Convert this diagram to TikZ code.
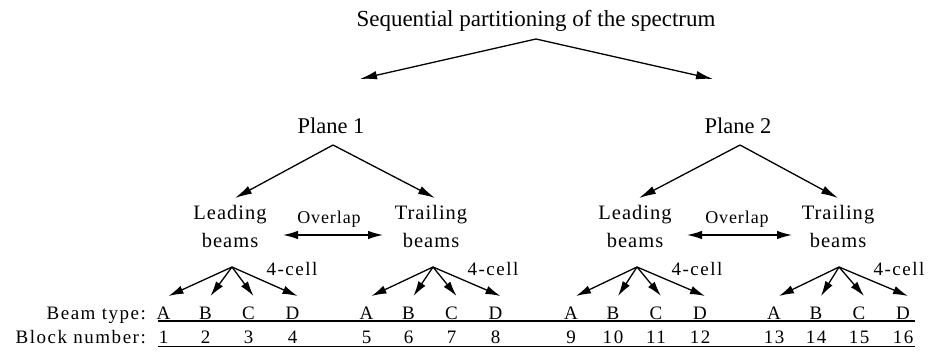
\documentclass[tikz,border=0pt]{standalone}
\usepackage{fontspec}
\setmainfont{Liberation Serif}
\newfontfamily\lsmid[LetterSpace=5]{Liberation Serif}
\newfontfamily\lssmall[LetterSpace=8]{Liberation Serif}
\newfontfamily\lsov[LetterSpace=5]{Liberation Serif}
\usetikzlibrary{arrows.meta}
\begin{document}
\begin{tikzpicture}[x=1pt,y=-1pt,line width=1.3pt,
  >={Latex[length=17pt,width=8.5pt]},
  bigtxt/.style={font=\fontsize{22.5}{27}\selectfont,inner sep=0pt,anchor=base},
  titletxt/.style={font=\fontsize{23}{27}\selectfont,inner sep=0pt,anchor=base},
  midtxt/.style={font=\lsmid\fontsize{20.5}{24}\selectfont,inner sep=0pt,anchor=base},
  ovtxt/.style={font=\lsov\fontsize{18}{21}\selectfont,inner sep=0pt,anchor=base},
  smtxt/.style={font=\lssmall\fontsize{19}{22}\selectfont,inner sep=0pt,anchor=base},
  fanarrow/.style={->,>={Latex[length=15pt,width=8.5pt]}},
  ovarrow/.style={<->,>={Latex[length=15pt,width=8.5pt]}},
  rule/.style={line width=1.4pt}]
\useasboundingbox (0,0) rectangle (931,351);

% title
\node[titletxt] (title) at (536,26) {Sequential partitioning of the spectrum};
\coordinate (t0) at (536,39);
\coordinate (t1) at (360,79);
\coordinate (t2) at (713,79);
\draw[->] (t0) -- (t1);
\draw[->] (t0) -- (t2);

% planes
\node[bigtxt] (plane1) at (331,133) {Plane 1};
\node[bigtxt] (plane2) at (738,133) {Plane 2};
\coordinate (p1) at (333,145);
\coordinate (p1l) at (235,198);
\coordinate (p1r) at (435,198);
\coordinate (p2) at (740,145);
\coordinate (p2l) at (639,198);
\coordinate (p2r) at (838,198);
\draw[->] (p1) -- (p1l);
\draw[->] (p1) -- (p1r);
\draw[->] (p2) -- (p2l);
\draw[->] (p2) -- (p2r);

% leading / trailing
\node[midtxt] (lead1) at (230,219) {Leading};
\node[midtxt] (lead1b) at (230,247) {beams};
\node[midtxt] (trail1) at (431,219) {Trailing};
\node[midtxt] (trail1b) at (431,247) {beams};
\node[midtxt] (lead2) at (635,219) {Leading};
\node[midtxt] (lead2b) at (635,247) {beams};
\node[midtxt] (trail2) at (838,219) {Trailing};
\node[midtxt] (trail2b) at (838,247) {beams};

\node[ovtxt] (ov1) at (329,223) {Overlap};
\node[ovtxt] (ov2) at (737,223) {Overlap};
\coordinate (o1l) at (283,235);
\coordinate (o1r) at (383,235);
\coordinate (o2l) at (687,235);
\coordinate (o2r) at (792,235);
\draw[ovarrow] (o1l) -- (o1r);
\draw[ovarrow] (o2l) -- (o2r);

% row labels
\node[smtxt,anchor=base east] (bt) at (146.5,319) {Beam type:};
\node[smtxt,anchor=base east] (bn) at (146.5,343) {Block number:};

% groups
\foreach \g/\gx/\ax in {1/163.5/232,2/366.5/433,3/571/637,4/774/839}{
  \coordinate (ap\g) at (\ax,267);
  \node[smtxt] (cell\g) at (\ax+60,275) {4-cell};
  \foreach \k/\lt/\dx in {1/A/0,2/B/42,3/C/85,4/D/129}{
    \pgfmathtruncatemacro{\num}{4*(\g-1)+\k}
    \node[smtxt] (l\g\k) at (\gx+\dx,319) {\lt};
    \node[smtxt] (n\g\k) at (\gx+\dx,343) {\num};
    \coordinate (tip\g\k) at (\gx+\dx+5,296);
    \draw[fanarrow] (ap\g) -- (tip\g\k);
  }
}

% rules
\coordinate (r1a) at (158,321);
\coordinate (r1b) at (915,321);
\coordinate (r2a) at (158,346.5);
\coordinate (r2b) at (915,346.5);
\draw[rule] (r1a) -- (r1b);
\draw[rule] (r2a) -- (r2b);
\end{tikzpicture}
\end{document}
